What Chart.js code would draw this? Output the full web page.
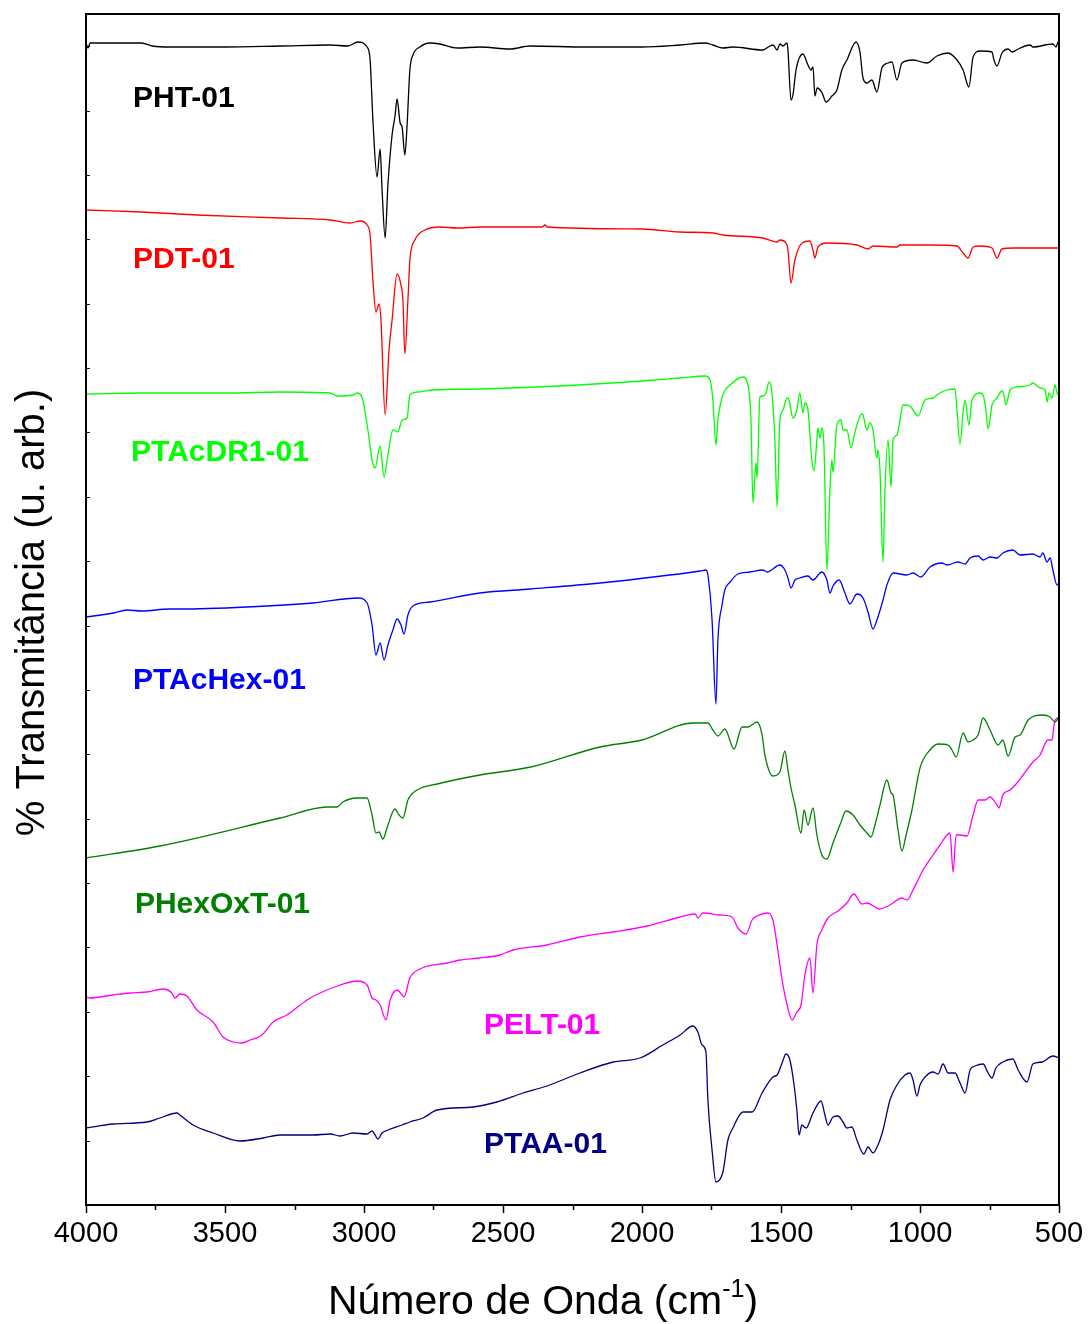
<!DOCTYPE html>
<html>
<head>
<meta charset="utf-8">
<title>Espectros FTIR</title>
<script src="https://cdn.jsdelivr.net/npm/chart.js@4.4.1/dist/chart.umd.min.js"></script>
<style>
  html, body { margin: 0; padding: 0; background: #ffffff; }
  #wrap { width: 1088px; height: 1324px; }
</style>
</head>
<body>
<div id="wrap"><canvas id="ftir" width="1088" height="1324"></canvas></div>
<script>
// Wavenumber (cm-1) and offset transmittance (arbitrary units) for each polymer

const phtX = [4000,3993,3985,3840,3800,3760,3700,3500,3300,3122,3058,3022,2989,2978,2968,2953,2942,2935,2924,2914,2899,2888,2881,2870,2863,2853,2845,2835,2824,2799,2763,2727,2665,2583,2475,2403,2200,2000,1863,1773,1745,1709,1673,1565,1540,1529,1514,1504,1493,1478,1475,1464,1457,1446,1421,1403,1392,1385,1378,1370,1352,1338,1317,1299,1281,1263,1230,1216,1205,1191,1173,1155,1137,1115,1101,1083,1065,1025,975,939,899,867,845,824,809,784,741,734,723,705,683,669,640,604,594,522,511,503,500];
const phtY = [116.2,115.7,116.2,116.2,116.2,115.9,115.8,115.8,115.9,116.0,115.9,116.3,115.8,114.5,108.5,102.8,105.6,101.5,96.7,102.0,107.0,109.0,110.6,108.2,107.8,105.0,108.0,113.5,115.0,115.8,116.2,116.1,115.7,115.8,115.6,115.9,115.8,115.8,116.0,116.2,116.0,115.7,115.8,115.5,115.9,116.0,115.5,116.1,115.9,116.2,115.5,110.5,111.0,113.5,115.1,114.0,113.5,113.8,110.9,111.7,111.2,110.3,110.9,111.5,113.5,114.5,116.3,115.3,112.7,112.2,112.5,111.3,113.7,114.2,114.3,112.5,114.2,114.5,114.2,114.9,115.2,114.5,113.5,111.8,114.8,115.4,115.3,114.5,113.9,115.2,115.6,115.3,115.7,116.0,115.8,116.1,115.8,116.3,116.1];

const pdtX = [4000,3800,3600,3300,3122,3050,3014,2989,2978,2968,2957,2946,2939,2924,2910,2899,2881,2867,2860,2853,2842,2835,2817,2781,2727,2665,2583,2403,2360,2349,2340,2000,1863,1745,1709,1565,1514,1504,1482,1475,1464,1450,1424,1396,1385,1378,1367,1335,1227,1187,1169,1083,1072,964,867,845,827,809,784,741,723,705,665,500];
const pdtY = [99.5,99.3,99.0,98.7,98.5,98.2,98.4,98.0,97.0,92.5,89.3,90.1,88.5,79.0,85.5,88.5,93.1,92.0,90.5,85.1,90.5,94.5,96.5,97.5,97.8,97.7,97.8,97.8,97.8,98.0,97.8,97.6,97.3,97.2,97.0,96.7,96.3,96.5,96.2,95.5,92.2,94.5,96.2,96.4,95.5,94.7,95.8,96.2,96.0,95.6,95.9,95.8,96.0,96.0,95.9,95.2,94.7,95.8,95.9,95.7,94.7,95.6,95.7,95.7];

const ptacdr1X = [4000,3800,3500,3300,3122,3097,3040,3022,3004,2986,2971,2960,2942,2928,2914,2896,2878,2863,2845,2835,2809,2752,2583,2300,2000,1863,1773,1755,1745,1734,1727,1709,1683,1637,1619,1608,1601,1590,1586,1576,1565,1554,1543,1532,1522,1514,1504,1493,1478,1471,1457,1443,1432,1421,1414,1403,1389,1381,1371,1367,1360,1353,1345,1335,1324,1317,1313,1299,1284,1277,1263,1248,1234,1209,1205,1191,1180,1169,1155,1151,1144,1133,1126,1115,1104,1097,1083,1072,1061,1036,1025,1007,982,953,935,903,874,867,856,845,838,824,813,784,773,763,755,741,723,705,698,691,676,651,604,594,568,550,543,536,525,514,507,500];
const ptacdr1Y = [81.1,81.2,81.2,81.3,81.2,80.9,81.0,81.2,80.5,77.5,74.5,73.7,75.9,72.8,75.0,77.5,77.3,78.5,78.7,81.0,81.3,81.5,81.6,81.9,82.4,82.7,82.9,82.5,80.5,76.0,78.5,81.0,82.0,82.8,82.0,78.5,70.2,74.2,72.7,80.8,80.9,81.2,82.3,81.0,76.5,69.8,78.5,79.5,80.7,80.5,78.7,79.5,81.2,79.2,80.2,79.5,74.5,73.4,76.5,77.7,76.7,77.7,75.5,63.5,71.5,74.5,73.3,78.0,78.5,77.5,77.5,75.7,77.3,79.1,79.0,77.5,78.2,77.5,74.7,75.5,73.5,64.3,71.5,76.5,71.8,76.5,77.0,78.5,80.0,79.9,79.5,78.9,80.5,80.7,81.1,81.5,81.6,79.5,76.1,79.3,80.5,78.0,80.5,81.2,81.0,79.5,77.6,80.0,80.7,81.4,81.0,80.0,81.5,81.8,82.0,82.2,81.7,81.5,80.3,81.2,80.7,82.0,81.2,81.0];

const ptachexX = [4000,3900,3853,3800,3700,3662,3421,3183,3022,2989,2971,2957,2942,2928,2914,2896,2881,2867,2856,2842,2824,2763,2583,2400,2151,1791,1770,1763,1748,1734,1727,1712,1702,1683,1655,1612,1565,1550,1504,1486,1475,1464,1450,1432,1403,1385,1353,1335,1324,1313,1291,1270,1252,1227,1205,1187,1169,1155,1133,1119,1097,1047,1025,997,964,921,903,863,838,820,791,773,748,723,702,666,640,594,568,558,543,532,522,507,500];
const ptachexY = [58.8,59.2,59.5,59.4,59.6,59.6,59.8,60.2,60.7,60.2,58.0,55.0,56.2,54.5,56.0,57.5,58.6,58.0,57.1,59.0,59.9,60.3,61.2,61.6,62.2,63.4,63.5,63.0,58.5,50.1,56.5,60.0,61.5,62.3,63.1,63.3,63.5,63.3,64.0,63.5,62.7,61.7,62.5,62.7,62.9,62.5,63.3,62.5,61.2,61.9,62.5,61.2,60.1,61.1,60.7,59.3,57.6,58.5,60.5,62.0,63.2,63.0,63.2,62.8,63.8,64.2,64.0,64.3,64.1,64.7,64.9,64.5,64.8,64.7,65.2,65.5,65.0,65.1,64.8,65.2,64.3,64.7,63.5,62.0,62.2];

const phexoxtX = [4000,3734,3302,3133,3097,3076,3025,2989,2971,2957,2946,2932,2914,2889,2874,2860,2842,2809,2737,2583,2400,2151,2000,1817,1763,1745,1727,1702,1669,1640,1619,1586,1568,1558,1529,1504,1486,1475,1464,1450,1428,1417,1403,1385,1371,1353,1335,1313,1288,1266,1241,1216,1191,1176,1162,1144,1119,1104,1097,1079,1065,1050,1029,1000,964,935,899,885,870,845,827,809,791,773,748,719,702,683,658,640,611,558,532,514,500];
const phexoxtY = [34.7,35.9,38.7,39.8,39.8,40.3,40.7,40.7,39.0,37.2,37.3,36.6,38.0,39.6,39.0,38.7,40.5,41.5,42.1,43.0,43.8,45.8,46.5,48.2,48.2,47.5,46.9,47.6,45.6,47.8,47.8,48.3,47.0,45.0,42.9,43.3,45.4,43.5,41.7,40.0,37.2,39.5,38.0,39.7,37.0,35.0,34.6,36.2,38.0,39.4,39.0,38.0,37.2,36.8,38.0,40.0,42.5,41.2,41.0,37.5,35.4,37.0,39.5,43.7,45.5,46.1,46.0,45.5,44.8,47.2,46.3,46.5,47.0,48.7,47.5,46.0,46.5,44.9,46.8,47.0,48.5,49.0,48.8,48.3,48.8];

const peltX = [4000,3986,3903,3842,3781,3723,3691,3680,3662,3637,3601,3543,3507,3471,3439,3410,3367,3327,3277,3205,3158,3086,3025,2989,2971,2957,2942,2921,2906,2881,2863,2856,2835,2799,2701,2655,2583,2511,2464,2342,2223,2104,1982,1863,1809,1799,1781,1719,1676,1655,1626,1604,1586,1550,1529,1514,1496,1478,1460,1443,1428,1414,1396,1385,1371,1353,1331,1295,1263,1238,1209,1191,1173,1148,1108,1065,1047,1025,1007,989,953,928,892,881,870,856,831,809,791,766,748,723,716,702,676,651,629,594,568,540,525,518,507,500];
const peltY = [20.8,20.7,21.0,21.2,21.3,21.6,21.2,20.7,21.1,20.9,19.5,18.3,16.8,16.3,16.2,16.5,17.0,18.3,19.0,20.5,21.2,22.0,22.4,22.0,20.7,20.5,20.0,18.5,20.5,21.5,21.0,20.8,22.7,23.6,24.2,24.5,24.7,25.0,25.5,26.0,26.8,27.3,27.9,28.8,29.1,28.7,29.2,29.0,28.8,27.7,27.1,28.5,28.9,29.2,28.5,26.0,22.5,20.0,18.5,19.3,20.0,23.0,24.7,21.2,26.0,27.5,28.7,29.4,30.2,31.1,30.1,30.2,30.0,29.6,30.0,30.7,30.5,31.5,32.5,33.5,35.0,36.0,37.2,33.3,37.0,37.0,36.9,39.0,40.5,40.5,40.8,40.0,39.7,41.0,41.5,42.2,43.0,44.3,45.0,46.5,46.5,48.0,48.7,48.3];

const ptaaX = [4000,3903,3781,3734,3673,3662,3615,3543,3446,3363,3302,3183,3122,3086,3040,2989,2971,2960,2950,2935,2914,2863,2835,2788,2737,2608,2522,2428,2342,2223,2104,2007,1925,1863,1817,1799,1784,1770,1763,1748,1734,1709,1691,1673,1637,1604,1568,1529,1514,1496,1482,1468,1453,1443,1435,1425,1410,1385,1356,1342,1331,1313,1295,1277,1263,1245,1227,1202,1187,1169,1151,1133,1108,1083,1054,1036,1025,1011,1000,982,953,935,917,899,874,856,838,820,802,773,755,741,727,702,666,647,615,594,561,522,500];
const ptaaY = [7.7,8.1,8.3,8.7,9.2,9.0,8.0,7.2,6.4,6.7,7.0,7.0,7.1,6.9,7.2,7.1,7.4,7.0,6.6,7.2,7.5,8.0,8.3,8.7,9.5,9.8,10.3,11.2,11.9,13.2,14.3,14.7,16.0,17.0,17.9,17.3,16.0,15.3,10.5,5.5,2.3,3.3,6.5,7.7,9.3,9.3,11.2,12.8,13.0,14.2,15.1,14.5,12.0,9.5,7.0,8.0,7.7,9.2,10.4,9.0,8.0,8.8,8.9,8.3,7.7,7.8,6.5,5.1,5.8,5.2,6.0,7.5,10.5,12.0,13.0,13.2,12.5,10.9,12.0,12.8,13.3,13.1,14.1,13.2,13.2,12.2,11.2,13.5,13.9,14.1,13.2,12.7,13.7,14.3,14.6,13.5,12.3,14.1,14.3,14.9,14.7];

// Sample names, colours and where each name is written (wavenumber, value)
const sampleNames  = ['PHT-01', 'PDT-01', 'PTAcDR1-01', 'PTAcHex-01', 'PHexOxT-01', 'PELT-01', 'PTAA-01'];
const sampleColors = ['#000000', '#ff0000', '#00ff00', '#0000ff', '#008000', '#ff00ff', '#000080'];
const nameAtWn     = [3831, 3831, 3838, 3831, 3824, 2568, 2568];
const nameAtValue  = [110.6, 94.5, 75.2, 52.4, 30.0, 17.9, 6.0];

// Axis ranges and ticks
const xTickValues = [4000, 3500, 3000, 2500, 2000, 1500, 1000, 500];
const xMinorStep = 250;
const yMax = 119.1;
const yTickStep = 6.438;

const seriesX = [phtX, pdtX, ptacdr1X, ptachexX, phexoxtX, peltX, ptaaX];
const seriesY = [phtY, pdtY, ptacdr1Y, ptachexY, phexoxtY, peltY, ptaaY];

const datasets = seriesX.map((xs, i) => ({
  label: sampleNames[i],
  data: xs.map((x, j) => ({ x: x, y: seriesY[i][j] })),
  borderColor: sampleColors[i],
  backgroundColor: sampleColors[i],
  borderWidth: 1.3,
  pointRadius: 0,
  fill: false,
  cubicInterpolationMode: 'monotone'
}));

const FONT = '"Liberation Sans", Arial, Helvetica, sans-serif';

// Frame, tick marks, axis titles and sample names
const decorations = {
  id: 'decorations',
  afterDatasetsDraw(chart) {
    const ctx = chart.ctx;
    const a = chart.chartArea;
    const xs = chart.scales.x;
    const ys = chart.scales.y;
    ctx.save();

    // Box around the plot
    ctx.strokeStyle = '#000';
    ctx.lineWidth = 2;
    ctx.strokeRect(a.left, a.top, a.right - a.left, a.bottom - a.top);

    // Outward x ticks: long at labelled values, short in between
    ctx.lineWidth = 1.5;
    ctx.beginPath();
    for (let v = 500; v <= 4000; v += xMinorStep) {
      const px = Math.round(xs.getPixelForValue(v)) + 0.5;
      const len = xTickValues.includes(v) ? 8 : 5;
      ctx.moveTo(px, a.bottom);
      ctx.lineTo(px, a.bottom + len);
    }
    ctx.stroke();

    // Inward y ticks
    ctx.lineWidth = 1;
    ctx.beginPath();
    for (let k = 1; k * yTickStep < yMax; k++) {
      const py = Math.round(ys.getPixelForValue(k * yTickStep)) + 0.5;
      ctx.moveTo(a.left, py);
      ctx.lineTo(a.left + 4, py);
    }
    ctx.stroke();

    // Sample names
    ctx.font = 'bold 30px ' + FONT;
    ctx.textAlign = 'left';
    ctx.textBaseline = 'middle';
    sampleNames.forEach((name, i) => {
      ctx.fillStyle = sampleColors[i];
      ctx.fillText(name, xs.getPixelForValue(nameAtWn[i]), ys.getPixelForValue(nameAtValue[i]));
    });

    // Y axis title
    ctx.fillStyle = '#000';
    ctx.font = '40px ' + FONT;
    ctx.textAlign = 'center';
    ctx.textBaseline = 'middle';
    ctx.save();
    ctx.translate(33, (a.top + a.bottom) / 2 + 3);
    ctx.rotate(-Math.PI / 2);
    ctx.fillText('% Transmitância (u. arb.)', 0, 0);
    ctx.restore();

    // X axis title with superscript unit
    const main = 'Número de Onda (cm';
    const sup = '-1';
    const close = ')';
    const bigFont = '41px ' + FONT;
    const smallFont = '25px ' + FONT;
    ctx.font = bigFont;
    const wMain = ctx.measureText(main).width;
    const wClose = ctx.measureText(close).width;
    ctx.font = smallFont;
    const wSup = ctx.measureText(sup).width;
    const total = wMain + wSup + wClose;
    let x0 = 543 - total / 2;
    const base = 1314;
    ctx.textAlign = 'left';
    ctx.textBaseline = 'alphabetic';
    ctx.font = bigFont;
    ctx.fillText(main, x0, base);
    ctx.font = smallFont;
    ctx.fillText(sup, x0 + wMain, base - 17);
    ctx.font = bigFont;
    ctx.fillText(close, x0 + wMain + wSup, base);

    ctx.restore();
  }
};

new Chart(document.getElementById('ftir'), {
  type: 'line',
  data: { datasets: datasets },
  options: {
    responsive: false,
    animation: false,
    devicePixelRatio: 1,
    layout: { padding: { top: 14, right: 29, left: 0, bottom: 0 } },
    plugins: {
      legend: { display: false },
      tooltip: { enabled: false },
      title: { display: false }
    },
    elements: { line: { tension: 0 } },
    scales: {
      x: {
        type: 'linear',
        reverse: true,
        min: 500,
        max: 4000,
        grid: { display: true, drawOnChartArea: false, drawTicks: true, tickLength: 8, color: 'rgba(0,0,0,0)' },
        border: { display: false },
        afterBuildTicks(scale) {
          scale.ticks = xTickValues.map(v => ({ value: v }));
        },
        ticks: {
          autoSkip: false,
          maxRotation: 0,
          padding: 4,
          color: '#000',
          font: { family: FONT, size: 29 },
          callback: v => String(v)
        },
        afterFit(scale) { scale.height = 119; }
      },
      y: {
        type: 'linear',
        min: 0,
        max: yMax,
        grid: { display: false },
        border: { display: false },
        ticks: { display: false },
        afterFit(scale) { scale.width = 86; }
      }
    }
  },
  plugins: [decorations]
});
</script>
</body>
</html>
